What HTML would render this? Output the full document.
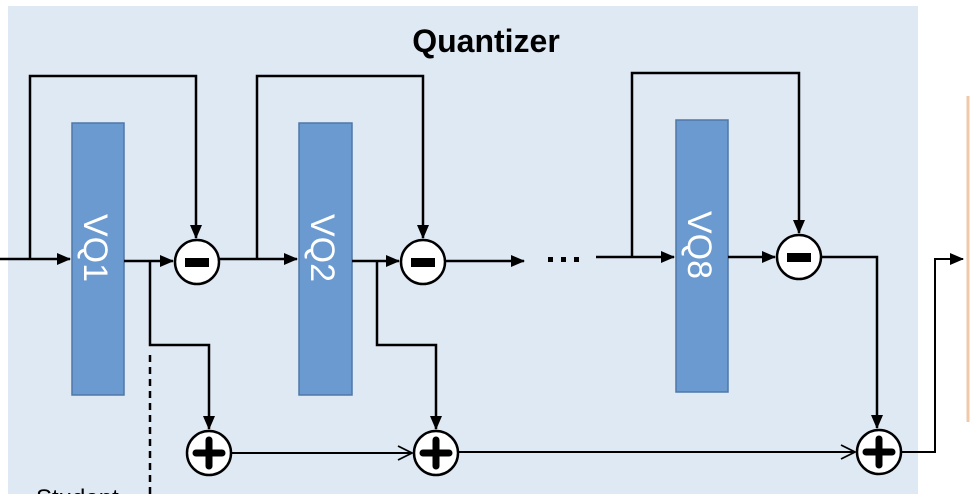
<!DOCTYPE html>
<html><head><style>body{margin:0;width:970px;height:494px;overflow:hidden;background:#fff}</style></head><body>
<svg width="970" height="494" viewBox="0 0 970 494" xmlns="http://www.w3.org/2000/svg" font-family="Liberation Sans, sans-serif">
<defs>
<marker id="a" markerWidth="14" markerHeight="12" refX="13" refY="6" orient="auto" markerUnits="userSpaceOnUse"><path d="M0,0 L14,6 L0,12 z" fill="#000"/></marker>
<marker id="o" markerWidth="16" markerHeight="16" refX="15" refY="8" orient="auto" markerUnits="userSpaceOnUse"><path d="M1,1 L15,8 L1,15" fill="none" stroke="#000" stroke-width="1.8"/></marker>
</defs>
<rect x="8" y="6" width="910" height="488" fill="#dfe9f4"/>
<line x1="968" y1="96" x2="968" y2="422" stroke="#f2c9a8" stroke-width="3"/>
<text x="486" y="52" font-size="32" font-weight="bold" text-anchor="middle">Quantizer</text>
<g fill="#6a9ad0" stroke="#4f78a8" stroke-width="1.5">
<rect x="72" y="123" width="52" height="272"/>
<rect x="299" y="123" width="53" height="272"/>
<rect x="676" y="120" width="52" height="272"/>
</g>
<g fill="#fff" font-size="34">
<text transform="translate(84,214) rotate(90)">VQ1</text>
<text transform="translate(311,214) rotate(90)">VQ2</text>
<text transform="translate(688,211) rotate(90)">VQ8</text>
</g>
<g stroke="#000" stroke-width="2.5" fill="none">
<line x1="0" y1="259" x2="70" y2="259" marker-end="url(#a)"/>
<polyline points="30,259 30,76 196,76 196,238" marker-end="url(#a)"/>
<line x1="124" y1="261" x2="173" y2="261" marker-end="url(#a)"/>
<polyline points="150,261 150,345 209,345 209,429" marker-end="url(#a)"/>
<line x1="219" y1="259" x2="297" y2="259" marker-end="url(#a)"/>
<polyline points="257,259 257,76 423,76 423,238" marker-end="url(#a)"/>
<line x1="352" y1="261" x2="399" y2="261" marker-end="url(#a)"/>
<polyline points="377,261 377,345 436,345 436,429" marker-end="url(#a)"/>
<line x1="445" y1="261" x2="524" y2="261" marker-end="url(#a)"/>
<line x1="596" y1="257" x2="674" y2="257" marker-end="url(#a)"/>
<polyline points="632,257 632,73 799,73 799,233" marker-end="url(#a)"/>
<line x1="728" y1="257" x2="775" y2="257" marker-end="url(#a)"/>
<polyline points="821,257 877,257 877,428" marker-end="url(#a)"/>
<line x1="231" y1="453" x2="412" y2="453" stroke-width="2" marker-end="url(#o)"/>
<line x1="458" y1="452" x2="855" y2="452" stroke-width="2" marker-end="url(#o)"/>
<polyline points="901,452 935,452 935,259 963,259" stroke-width="2" marker-end="url(#a)"/>
<line x1="150" y1="355" x2="150" y2="494" stroke-dasharray="7,5"/>
</g>
<g fill="#000"><rect x="548" y="257" width="5" height="5"/><rect x="561" y="257" width="5" height="5"/><rect x="574" y="257" width="5" height="5"/></g>
<g fill="#fff" stroke="#000" stroke-width="2.5">
<circle cx="197" cy="262" r="22"/><circle cx="423" cy="262" r="22"/><circle cx="799" cy="257" r="22"/>
<circle cx="209" cy="453" r="22"/><circle cx="436" cy="453" r="22"/><circle cx="879" cy="452" r="22"/>
</g>
<g fill="#000">
<rect x="185" y="258" width="24" height="9"/><rect x="411" y="258" width="24" height="9"/><rect x="787" y="253" width="24" height="9"/>
</g>
<g stroke="#000" stroke-width="7" stroke-linecap="round">
<line x1="196" y1="453" x2="222" y2="453"/><line x1="209" y1="440" x2="209" y2="466"/>
<line x1="423" y1="453" x2="449" y2="453"/><line x1="436" y1="440" x2="436" y2="466"/>
<line x1="866" y1="452" x2="892" y2="452"/><line x1="879" y1="439" x2="879" y2="465"/>
</g>
<text x="36" y="506" font-size="24">Student</text>
</svg>
</body></html>
